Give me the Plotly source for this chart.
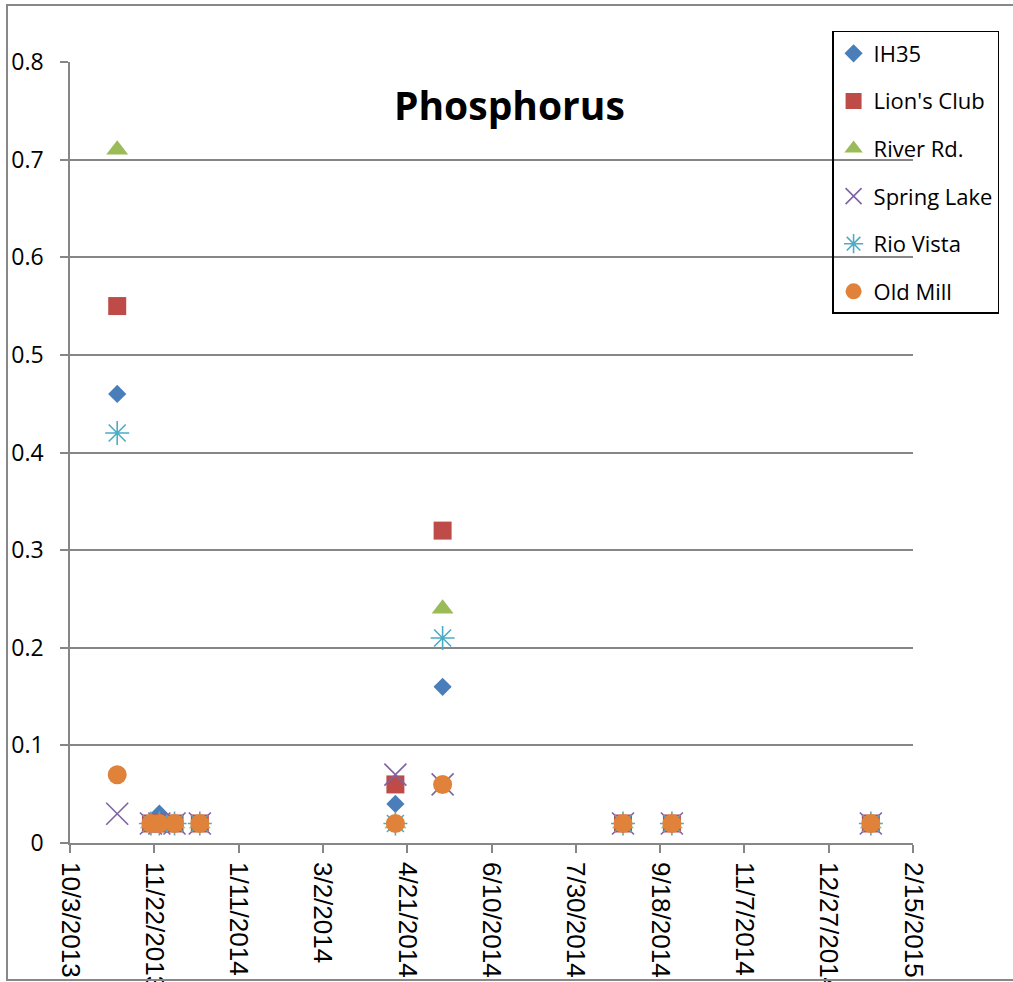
import plotly.graph_objects as go

# Sampling dates and total phosphorus (mg/L) per site
dates = ["2013-10-31", "2013-11-20", "2013-11-25", "2013-12-04", "2013-12-19",
         "2014-04-14", "2014-05-12", "2014-08-27", "2014-09-25", "2015-01-21"]

ih35 = [0.46, 0.02, 0.03, 0.02, 0.02, 0.04, 0.16, 0.02, 0.02, 0.02]
lions_club = [0.55, 0.02, 0.02, 0.02, 0.02, 0.06, 0.32, 0.02, 0.02, 0.02]
river_rd = [0.71, 0.02, 0.02, 0.02, 0.02, 0.02, 0.24, 0.02, 0.02, 0.02]
spring_lake = [0.03, 0.02, 0.02, 0.02, 0.02, 0.07, 0.06, 0.02, 0.02, 0.02]
rio_vista = [0.42, 0.02, 0.02, 0.02, 0.02, 0.02, 0.21, 0.02, 0.02, 0.02]
old_mill = [0.07, 0.02, 0.02, 0.02, 0.02, 0.02, 0.06, 0.02, 0.02, 0.02]

series = [
    ("IH35", ih35, "diamond", 14, "#4A7EBB", 0),
    ("Lion's Club", lions_club, "square", 18, "#BE4B48", 0),
    ("River Rd.", river_rd, "triangle-up", 19, "#9BBB59", 0),
    ("Spring Lake", spring_lake, "x-thin", 22, "#7F63A1", 1.6),
    ("Rio Vista", rio_vista, "asterisk", 20, "#4BACC6", 1.6),
    ("Old Mill", old_mill, "circle", 19, "#E0823A", 0),
]

fig = go.Figure()
for i, (name, vals, sym, size, color, lw) in enumerate(series):
    marker = dict(symbol=sym, size=size, color=color)
    if lw:
        marker["line"] = dict(color=color, width=lw)
    else:
        marker["line"] = dict(width=0)
    fig.add_trace(go.Scatter(
        x=dates, y=vals, mode="markers", name=name,
        legendgroup=f"g{i}", marker=marker,
    ))

grid = "#868686"
fig.update_layout(
    width=1013, height=982,
    margin=dict(l=70, r=100, t=62, b=139),
    paper_bgcolor="white", plot_bgcolor="white",
    showlegend=True,
    legend=dict(
        x=0.904, y=1.0397, xanchor="left", yanchor="top",
        bgcolor="rgba(0,0,0,0)", bordercolor="black", borderwidth=1.5,
        font=dict(family="Open Sans", size=22, color="black"),
        tracegroupgap=16, itemsizing="trace",
    ),
    xaxis=dict(
        type="date",
        range=["2013-10-03", "2015-02-15"],
        tick0="2013-10-03", dtick=50 * 86400000,
        tickformat="%-m/%-d/%Y", tickangle=90,
        ticks="outside", ticklen=8, tickcolor=grid, tickwidth=1.5,
        showline=True, linecolor=grid, linewidth=1.5,
        showgrid=False, zeroline=False, automargin=False,
        ticklabelstandoff=4,
        tickfont=dict(family="Liberation Sans", size=26, color="black"),
    ),
    yaxis=dict(
        range=[0, 0.8], dtick=0.1, tick0=0,
        ticks="outside", ticklen=8, tickcolor=grid, tickwidth=1.5,
        showline=True, linecolor=grid, linewidth=1.5,
        showgrid=True, gridcolor=grid, gridwidth=1.5,
        zeroline=False, automargin=False, ticklabelstandoff=12,
        tickfont=dict(family="Open Sans", size=23, color="black"),
    ),
    annotations=[dict(
        text="<b>Phosphorus</b>", xref="paper", yref="paper",
        x=0.5208, y=0.946, xanchor="center", yanchor="middle",
        showarrow=False,
        font=dict(family="Open Sans", size=39, color="black"),
    )],
    shapes=[dict(
        type="rect", xref="paper", yref="paper",
        x0=(7 - 70) / 843, x1=(1030 - 70) / 843,
        y0=(843 - 980) / 781, y1=(843 - 5) / 781,
        line=dict(color="#888888", width=2), fillcolor="rgba(0,0,0,0)",
        layer="above",
    )],
)

fig.write_html("out.html")
